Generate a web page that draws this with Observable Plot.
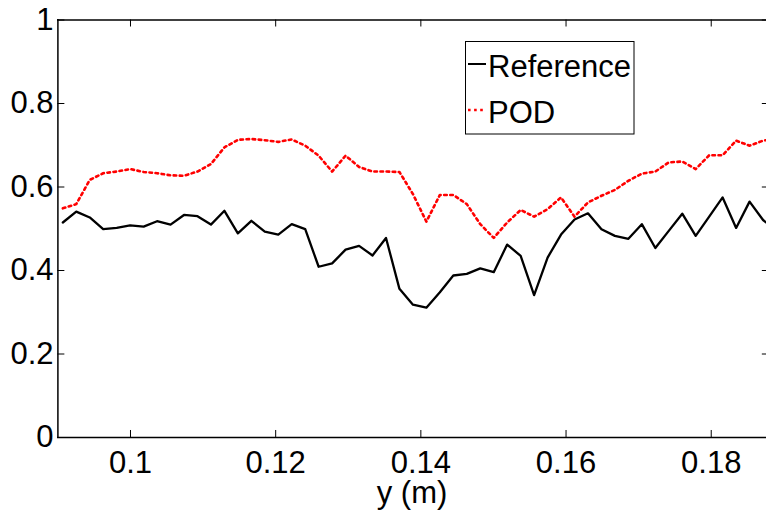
<!DOCTYPE html>
<html>
<head>
<meta charset="utf-8">
<script src="https://cdn.jsdelivr.net/npm/d3@7"></script>
<script src="https://cdn.jsdelivr.net/npm/@observablehq/plot@0.6"></script>
<style>
  html, body { margin: 0; padding: 0; background: white; }
  #chart svg { display: block; }
</style>
</head>
<body>
<div id="chart"></div>
<script>
// Positions along y (m)
const yPos = [
  0.09068, 0.09253, 0.09439, 0.09624, 0.09810, 0.09995, 0.10181, 0.10366, 0.10552, 0.10737,
  0.10923, 0.11108, 0.11294, 0.11479, 0.11665, 0.11850, 0.12036, 0.12221, 0.12407, 0.12592,
  0.12778, 0.12963, 0.13149, 0.13334, 0.13520, 0.13705, 0.13891, 0.14076, 0.14262, 0.14447,
  0.14633, 0.14818, 0.15004, 0.15189, 0.15375, 0.15560, 0.15746, 0.15931, 0.16117, 0.16302,
  0.16488, 0.16673, 0.16859, 0.17044, 0.17230, 0.17415, 0.17601, 0.17786, 0.17972, 0.18157,
  0.18343, 0.18528, 0.18714, 0.18899
];
// Reference series
const refValues = [
  0.515, 0.541, 0.527, 0.499, 0.502, 0.508, 0.505, 0.518, 0.510, 0.533,
  0.530, 0.510, 0.543, 0.489, 0.519, 0.493, 0.486, 0.511, 0.499, 0.409,
  0.417, 0.450, 0.459, 0.436, 0.478, 0.356, 0.318, 0.311, 0.348, 0.388,
  0.392, 0.405, 0.396, 0.462, 0.435, 0.341, 0.431, 0.486, 0.522, 0.537,
  0.499, 0.483, 0.476, 0.511, 0.454, 0.495, 0.536, 0.483, 0.529, 0.575,
  0.502, 0.565, 0.521, 0.495
];
// POD series
const podValues = [
  0.549, 0.559, 0.617, 0.633, 0.637, 0.643, 0.636, 0.633, 0.628, 0.627,
  0.637, 0.655, 0.695, 0.713, 0.715, 0.712, 0.708, 0.714, 0.699, 0.675,
  0.637, 0.675, 0.648, 0.637, 0.637, 0.636, 0.583, 0.517, 0.581, 0.581,
  0.559, 0.511, 0.478, 0.515, 0.545, 0.529, 0.547, 0.575, 0.529, 0.563,
  0.579, 0.593, 0.615, 0.632, 0.637, 0.659, 0.661, 0.643, 0.676, 0.676,
  0.711, 0.699, 0.711, 0.716
];
const seriesNames = ["Reference", "POD"];
const seriesColors = ["black", "red"];
const xTicks = [0.1, 0.12, 0.14, 0.16, 0.18];
const yTicks = [0, 0.2, 0.4, 0.6, 0.8, 1];
const xLabel = "y (m)";
const xDomain = [0.09, 0.188];
const yDomain = [0, 1];

const data = yPos.map((x, i) => ({x, ref: refValues[i], pod: podValues[i]}));

const FONT = "'Liberation Sans', Arial, Helvetica, sans-serif";
const FS = 31;
const tickLenY = 0.0168;   // inward tick length (y units)
const tickLenX = 0.00096;  // inward tick length (x units)
const DASH = "2.6,3.5";

const chart = Plot.plot({
  width: 766,
  height: 512,
  marginLeft: 57,
  marginRight: 0,
  marginTop: 19,
  marginBottom: 75,
  style: {fontFamily: FONT, background: "white", color: "black"},
  x: {domain: xDomain, range: [57.4, 768.8], axis: null},
  y: {domain: yDomain, range: [437, 19.5], axis: null},
  marks: [
    // data lines
    Plot.line(data, {x: "x", y: "ref", stroke: seriesColors[0], strokeWidth: 2.3, clip: true}),
    Plot.line(data, {x: "x", y: "pod", stroke: seriesColors[1], strokeWidth: 2.6, strokeDasharray: DASH, clip: true}),
    // box
    Plot.ruleX([xDomain[0]], {stroke: "black", strokeWidth: 1.5}),
    Plot.ruleY(yDomain, {stroke: "black", strokeWidth: 1.5}),
    // inward ticks
    Plot.ruleX(xTicks, {y1: yDomain[0], y2: yDomain[0] + tickLenY, stroke: "black", strokeWidth: 1}),
    Plot.ruleX(xTicks, {y1: yDomain[1], y2: yDomain[1] - tickLenY, stroke: "black", strokeWidth: 1}),
    Plot.ruleY(yTicks, {x1: xDomain[0], x2: xDomain[0] + tickLenX, stroke: "black", strokeWidth: 1}),
    Plot.ruleY(yTicks, {x1: xDomain[1] - tickLenX, x2: xDomain[1], stroke: "black", strokeWidth: 1}),
    // tick labels
    Plot.text(xTicks, {x: d => d, frameAnchor: "bottom", dy: 26, lineAnchor: "middle",
      text: d => String(d), fontSize: FS, fill: "black"}),
    Plot.text(yTicks, {y: d => d, frameAnchor: "left", dx: -4, textAnchor: "end", lineAnchor: "middle",
      text: d => String(d), fontSize: FS, fill: "black"}),
    // axis label
    Plot.text([xLabel], {frameAnchor: "bottom", dy: 56, lineAnchor: "middle", fontSize: FS, fill: "black"})
  ]
});

document.getElementById("chart").appendChild(chart);

// Legend (inside the plot box, top right)
const svg = d3.select(chart);
const lg = svg.append("g").attr("font-family", FONT).attr("font-size", FS).attr("text-anchor", "start");
lg.append("rect").attr("x", 465.5).attr("y", 41.5).attr("width", 168.5).attr("height", 92.5)
  .attr("fill", "white").attr("stroke", "black").attr("stroke-width", 1);
seriesNames.forEach((name, i) => {
  const cy = 64 + i * 46;
  lg.append("line").attr("x1", 468).attr("x2", 486).attr("y1", cy).attr("y2", cy)
    .attr("stroke", seriesColors[i]).attr("stroke-width", i ? 2.6 : 2)
    .attr("stroke-dasharray", i ? DASH : null);
  lg.append("text").attr("x", 488).attr("y", cy + 12.7).attr("text-anchor", "start")
    .attr("fill", "black").text(name);
});
</script>
</body>
</html>
